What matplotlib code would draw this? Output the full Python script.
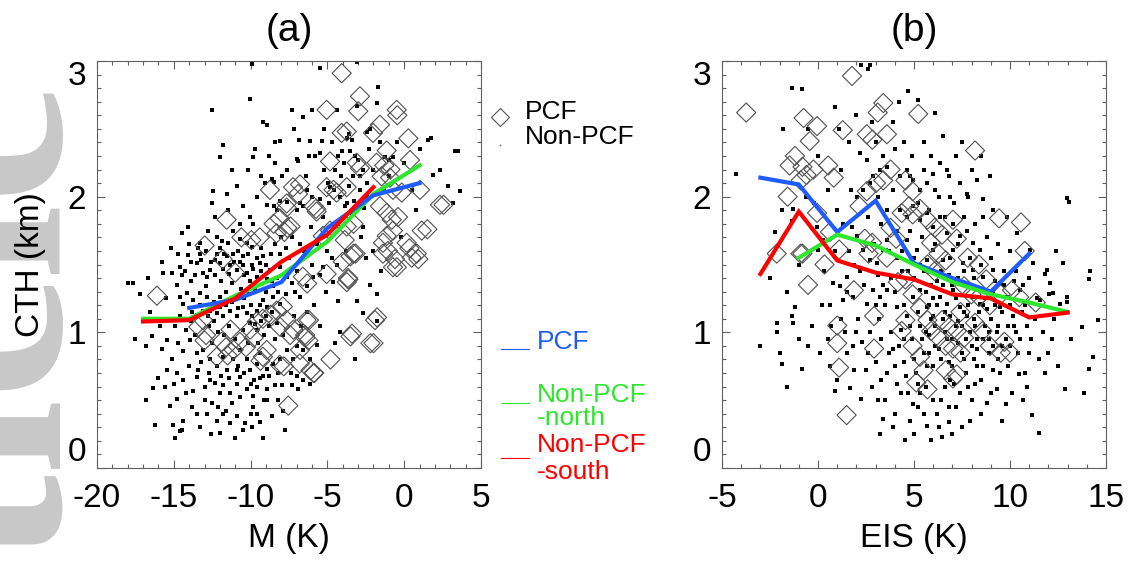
import matplotlib.pyplot as plt
import numpy as np
from matplotlib.lines import Line2D
from matplotlib.ticker import MultipleLocator

plt.rcParams["font.family"] = ["Liberation Sans", "DejaVu Sans"]
plt.rcParams["axes.unicode_minus"] = False

# - Binned mean CTH curves

m_pcf = [-14, -11, -8, -5, -2, 1]
cth_m_pcf = [1.18, 1.24, 1.37, 1.77, 2.01, 2.10]
m_north = [-17, -14, -11, -8, -5, -2, 1]
cth_m_north = [1.10, 1.10, 1.27, 1.42, 1.67, 2.02, 2.23]
m_south = [-17, -14, -11, -8, -5, -2]
cth_m_south = [1.08, 1.09, 1.25, 1.52, 1.72, 2.07]

eis_pcf = [-3, -1, 1, 3, 5, 7, 9, 11]
cth_eis_pcf = [2.14, 2.09, 1.74, 1.97, 1.51, 1.40, 1.30, 1.58]
eis_north = [-1, 1, 3, 5, 7, 9, 11, 13]
cth_eis_north = [1.55, 1.72, 1.64, 1.50, 1.37, 1.28, 1.22, 1.15]
eis_south = [-3, -1, 1, 3, 5, 7, 9, 11, 13]
cth_eis_south = [1.43, 1.89, 1.53, 1.44, 1.39, 1.28, 1.25, 1.11, 1.145]

# - Individual scenes: (M or EIS, CTH)

pcf_m = [
    (-4.07, 2.91), (-2.88, 2.74), (-5.05, 2.64), (-0.49, 2.64), (-0.45, 2.60), (-2.99, 2.63),
    (-3.74, 2.48), (-4.07, 2.47), (-1.58, 2.53), (-2.03, 2.47), (0.27, 2.43), (-1.14, 2.34),
    (-4.83, 2.26), (0.38, 2.27), (-3.09, 2.25), (-2.88, 2.21), (-1.8, 2.25), (-1.3, 2.23),
    (-0.9, 2.2), (-1.47, 2.15), (-0.92, 2.14), (-0.73, 2.05), (-0.16, 2.03), (1.03, 2.05),
    (2.33, 1.94), (-6.78, 2.09), (-7.24, 2.07), (-8.74, 2.05), (-4.6, 2.05), (-4.4, 2.03),
    (-5.05, 2.07), (-5.9, 1.93), (-5.7, 1.89), (-3.74, 2.07), (-11.56, 1.83), (-7.65, 1.95),
    (-7.65, 1.92), (-8.1, 1.84), (-8.5, 1.8), (-7.4, 1.78), (-7.8, 1.74), (-4.83, 1.75),
    (-5.3, 1.71), (-3.3, 1.8), (-3.74, 1.78), (-1.58, 1.93), (-1.14, 1.88), (-0.81, 1.83),
    (-0.73, 1.75), (-1.14, 1.71), (-0.4, 1.85), (-1.38, 1.66), (0.16, 1.66), (1.14, 1.75),
    (-10.6, 1.7), (-9.4, 1.7), (-16.1, 1.27), (-13.1, 1.09), (-13.4, 1.04), (-12.9, 0.98),
    (-13.0, 0.94), (-11.3, 1.02), (-11.9, 0.93), (-11.6, 0.89), (-11.1, 0.87), (-11.5, 0.83),
    (-12.2, 0.82), (-10.7, 0.93), (-10.3, 0.89), (-9.8, 0.96), (-9.6, 1.08), (-9.2, 1.1),
    (-8.7, 1.13), (-8.3, 1.16), (-7.9, 1.19), (-8.95, 0.87), (-9.2, 0.82), (-8.1, 0.76),
    (-6.8, 0.77), (-6.1, 0.72), (-5.9, 0.7), (-6.6, 1.41), (-5.05, 1.43), (-3.66, 1.4),
    (-3.74, 1.37), (-3.5, 1.56), (-3.3, 1.58), (-4.0, 1.52), (-1.38, 1.58), (-0.73, 1.48),
    (0.49, 1.55), (0.82, 1.58), (-1.9, 1.09), (-3.5, 0.97), (-2.2, 0.92), (-7.55, 0.46),
    (-7.65, 1.09), (-7.21, 1.02), (-6.35, 1.09), (-6.45, 0.98), (-6.24, 0.94), (-8.08, 1.04),
    (-10.03, 1.02), (-7.43, 0.98), (-6.78, 0.87), (-12.99, 1.64), (-11.82, 1.54), (-11.0, 1.44),
    (-9.95, 1.68), (-8.31, 1.73), (-7.61, 1.77), (-6.91, 2.02), (-5.74, 1.91), (-6.32, 1.36),
    (-6.2, 1.09), (-6.44, 0.96), (-4.8, 0.8), (-5.86, 0.7), (-7.84, 0.75), (-9.36, 0.79),
    (-3.4, 0.99), (-2.0, 0.92), (-1.77, 1.11), (-3.64, 1.39), (-3.17, 1.58), (-3.87, 1.68),
    (-1.06, 1.6), (-0.6, 1.54), (0.34, 1.62), (0.92, 1.54), (1.51, 1.76), (2.56, 1.94),
    (-0.48, 1.48),
]

nonpcf_m = [
    (-9.93, 2.98), (-3.09, 2.99), (-5.48, 2.95), (-10.04, 2.72), (-12.53, 2.64), (-7.32, 2.64),
    (-6.0, 2.64), (-6.56, 2.59), (-9.17, 2.55), (-8.95, 2.53), (-4.39, 2.64), (-3.09, 2.67),
    (-1.68, 2.81), (-1.79, 2.69), (-8.08, 2.41), (-6.84, 2.42), (-6.13, 2.41), (-5.37, 2.41),
    (-3.74, 2.43), (-3.6, 2.46), (-3.4, 2.42), (-2.44, 2.48), (-2.2, 2.5), (1.58, 2.42),
    (-11.77, 2.38), (-11.99, 2.29), (-9.82, 2.29), (-6.89, 2.26), (-8.41, 2.25), (-5.48, 2.32),
    (-4.07, 2.34), (-3.52, 2.34), (-2.98, 2.27), (-1.25, 2.29), (-1.0, 2.27), (-0.7, 2.29),
    (3.31, 2.34), (-12.42, 2.04), (-11.55, 2.02), (-9.6, 2.0), (-8.95, 1.94), (-8.5, 1.93),
    (-8.3, 1.9), (-9.3, 2.15), (-9.05, 2.1), (-8.6, 2.13), (-8.5, 2.11), (-7.97, 2.15),
    (-8.1, 1.97), (-7.65, 1.96), (-6.78, 1.95), (-6.56, 1.93), (-6.35, 2.05), (-6.0, 2.0),
    (-4.93, 2.1), (-4.82, 2.07), (-4.6, 2.05), (-4.17, 2.0), (-3.74, 1.95), (-3.85, 1.93),
    (-3.3, 1.97), (-2.88, 2.15), (-2.66, 2.2), (-3.31, 2.15), (-2.44, 2.1), (-2.44, 2.0),
    (1.9, 2.16), (2.88, 2.08), (3.64, 2.04), (1.74, 2.43), (3.49, 2.34), (-2.66, 1.78),
    (-14.48, 1.73), (-14.05, 1.78), (-13.29, 1.66), (-12.2, 1.7), (-11.88, 1.67), (-11.44, 1.66),
    (-10.68, 1.69), (-10.25, 1.66), (-9.93, 1.63), (-10.47, 1.93), (-10.03, 1.85), (-9.82, 1.8),
    (-10.68, 1.8), (-11.12, 1.75),
    (-17.96, 1.36), (-17.63, 1.36), (-17.2, 1.28), (-16.65, 1.4), (-15.68, 1.44), (-15.79, 1.52),
    (-15.13, 1.44), (-14.59, 1.48), (-14.48, 1.42), (-14.05, 1.57), (-13.51, 1.51), (-13.29, 1.58),
    (-13.07, 1.44), (-12.85, 1.41), (-12.64, 1.46), (-12.31, 1.53), (-12.2, 1.58), (-11.99, 1.51),
    (-11.77, 1.47), (-11.55, 1.56), (-11.34, 1.5), (-11.12, 1.58), (-10.9, 1.46), (-10.68, 1.52),
    (-10.47, 1.56), (-10.25, 1.44), (-10.03, 1.38), (-9.82, 1.47), (-9.6, 1.41), (-9.38, 1.51),
    (-9.17, 1.56), (-8.95, 1.39), (-8.73, 1.46), (-8.52, 1.34), (-8.3, 1.4), (-8.08, 1.48),
    (-7.65, 1.41), (-7.32, 1.36), (-7.11, 1.3), (-6.78, 1.26), (-6.35, 1.34), (-5.91, 1.41),
    (-5.48, 1.42), (-5.26, 1.48), (-4.61, 1.37), (-4.28, 1.23), (-3.09, 1.23), (-2.22, 1.35),
    (-1.79, 1.28), (-2.66, 1.14), (-1.79, 1.08), (-4.17, 1.0),
    (-16.55, 1.15), (-14.59, 1.26), (-14.37, 1.21), (-14.16, 1.29), (-13.72, 1.24), (-13.29, 1.29),
    (-12.85, 1.26), (-12.64, 1.16), (-12.2, 1.14), (-11.99, 1.19), (-11.77, 1.12), (-11.34, 1.16),
    (-10.9, 1.12), (-10.47, 1.19), (-10.25, 1.14), (-10.03, 1.07), (-9.6, 1.02), (-9.6, 1.16),
    (-9.17, 1.24), (-8.95, 1.19), (-8.52, 1.26), (-8.08, 1.21),
    (-16.44, 0.97), (-15.79, 0.88), (-15.46, 0.94), (-14.7, 0.92), (-14.37, 0.86), (-13.94, 0.94),
    (-15.13, 0.8), (-13.51, 0.85), (-13.07, 0.87), (-12.64, 0.8), (-12.2, 0.75), (-11.77, 0.82),
    (-11.55, 0.72), (-11.12, 0.8), (-10.68, 0.87), (-10.25, 0.8), (-10.03, 0.72), (-9.6, 0.77),
    (-9.38, 0.85), (-9.17, 0.68), (-8.95, 0.73), (-8.52, 0.77), (-8.08, 0.8), (-7.65, 0.87),
    (-7.21, 0.8), (-6.99, 0.9), (-6.56, 0.87), (-6.13, 0.8), (-5.7, 0.91),
    (-16.0, 0.66), (-15.46, 0.72), (-16.33, 0.59), (-15.24, 0.46), (-14.81, 0.51), (-14.37, 0.65),
    (-13.72, 0.57), (-13.51, 0.67), (-12.64, 0.65), (-11.99, 0.55), (-11.77, 0.61), (-11.34, 0.55),
    (-10.9, 0.62), (-10.68, 0.67), (-10.25, 0.58), (-9.82, 0.53), (-9.6, 0.6), (-8.95, 0.58),
    (-8.4, 0.61), (-7.97, 0.61), (-7.32, 0.61), (-6.13, 0.62),
    (-16.22, 0.32), (-15.03, 0.32), (-14.48, 0.28), (-14.37, 0.35), (-13.51, 0.4), (-12.85, 0.4),
    (-12.09, 0.45), (-11.77, 0.4), (-11.34, 0.33), (-10.9, 0.38), (-10.36, 0.33), (-9.82, 0.45),
    (-9.6, 0.4), (-9.38, 0.34), (-7.76, 0.28), (-14.59, 0.27), (-12.0, 0.26), (-10.5, 0.28),
    (-14.9, 1.05), (-14.6, 1.12), (-14.2, 1.02), (-13.8, 1.15), (-13.6, 0.98), (-13.3, 1.2),
    (-13.2, 0.78), (-12.9, 1.34), (-12.7, 1.05), (-12.5, 0.92), (-12.4, 1.22), (-12.1, 1.0),
    (-11.9, 1.38), (-11.7, 0.98), (-11.6, 1.3), (-11.4, 1.05), (-11.2, 1.36), (-11.0, 0.95),
    (-10.9, 1.25), (-10.8, 0.75), (-10.6, 1.32), (-10.5, 1.02), (-10.4, 1.42), (-10.2, 0.92),
    (-10.1, 1.28), (-9.9, 1.12), (-9.8, 0.65), (-9.7, 1.32), (-9.5, 0.92), (-9.4, 1.2),
    (-9.3, 1.45), (-9.1, 0.98), (-9.0, 1.3), (-8.9, 0.5), (-8.8, 1.05), (-8.6, 1.38),
    (-8.4, 0.95), (-8.2, 1.3), (-8.1, 1.58), (-7.9, 0.98), (-7.7, 1.28), (-7.5, 1.55),
    (-7.4, 0.7), (-7.2, 1.12), (-7.0, 1.45), (-6.9, 0.58), (-6.7, 1.05), (-6.5, 1.6),
    (-6.3, 1.15), (-6.1, 1.78), (-5.9, 1.2), (-5.7, 1.65), (-5.5, 1.05), (-5.3, 1.85),
    (-5.1, 1.3), (-4.9, 1.95), (-4.7, 1.55), (-4.5, 2.2), (-4.3, 1.8), (-4.1, 2.15),
    (-3.9, 2.25), (-3.6, 2.08), (-3.4, 1.88), (-3.2, 2.3), (-2.9, 2.05), (-2.6, 1.92),
    (-2.3, 2.35), (-2.0, 2.2), (-1.6, 2.4), (-1.3, 2.05), (-1.0, 2.15), (-0.5, 2.4),
    (0.0, 2.25), (0.5, 2.05), (1.0, 2.35), (-15.5, 1.25), (-15.9, 1.05), (-16.8, 0.9),
    (-17.5, 0.95), (-15.2, 1.62), (-14.8, 1.35), (-13.9, 1.38), (-13.4, 1.62), (-12.8, 1.75),
    (-12.3, 1.85), (-11.5, 1.9), (-10.9, 2.08), (-10.2, 2.2), (-9.7, 2.35), (-8.8, 2.3),
    (-7.6, 2.2), (-7.0, 2.28), (-6.4, 2.15), (-5.8, 2.3), (-5.2, 2.2), (-13.0, 0.6),
    (-12.5, 0.48), (-11.2, 0.48), (-10.7, 0.52), (-10.0, 0.4), (-9.1, 0.5), (-8.6, 0.38),
    (-8.2, 0.5), (-7.9, 0.42), (-7.0, 0.68), (-6.6, 0.65), (-14.0, 0.75), (-14.8, 0.7),
    (-15.6, 0.6), (-16.8, 0.5), (-13.8, 0.45), (-12.2, 0.35), (-11.0, 0.22), (-9.2, 0.22),
    (-13.3, 0.3), (-14.9, 0.22), (-4.5, 0.92), (-3.2, 0.8), (-2.5, 1.55), (-2.0, 1.6),
    (-1.5, 1.45), (-0.2, 1.7), (0.8, 1.9), (2.3, 2.2), (3.2, 1.95),
    (-14.7, 1.58), (-14.3, 1.45), (-13.9, 1.52), (-13.6, 1.42), (-13.2, 1.53), (-12.9, 1.6),
    (-12.6, 1.52), (-12.3, 1.42), (-12.0, 1.62), (-11.7, 1.58), (-11.4, 1.43), (-11.1, 1.52),
    (-10.8, 1.6), (-10.5, 1.5), (-10.2, 1.58), (-9.9, 1.5), (-9.6, 1.55), (-9.3, 1.62),
    (-9.0, 1.5), (-8.7, 1.58), (-8.4, 1.65), (-8.0, 1.7), (-7.7, 1.62), (-7.3, 1.7),
    (-13.9, 1.08), (-13.5, 1.13), (-13.1, 1.16), (-12.8, 1.12), (-12.4, 1.08), (-12.0, 1.26),
    (-11.6, 1.2), (-11.2, 1.22), (-10.8, 1.18), (-10.4, 1.25), (-10.0, 1.2), (-9.7, 1.06),
    (-9.3, 1.08), (-9.0, 1.12), (-8.6, 1.15), (-8.3, 1.07), (-12.7, 0.7), (-12.3, 0.63),
    (-11.9, 0.68), (-11.4, 0.66), (-10.9, 0.72), (-10.4, 0.7), (-10.0, 0.62), (-9.4, 0.66),
    (-8.8, 0.68), (-8.2, 0.7), (-13.4, 0.72), (-14.2, 0.55), (-15.0, 0.62), (-13.0, 0.5),
    (-11.6, 0.42), (-9.9, 0.3), (-12.6, 0.25), (-14.0, 1.65), (-12.5, 1.95), (-11.2, 2.2),
    (-8.4, 2.4), (-7.2, 2.5), (-6.2, 2.3), (-5.2, 2.5), (-4.7, 2.4), (-5.0, 1.6),
    (-4.4, 1.5), (-3.8, 1.6), (-2.8, 1.7), (-6.8, 1.65), (-6.0, 1.5), (-7.0, 1.9),
    (-5.5, 1.98), (-4.3, 2.3),
]

pcf_eis = [
    (-3.74, 2.62), (1.77, 2.89), (-0.75, 2.58), (-0.05, 2.52), (-0.43, 2.41), (1.29, 2.49),
    (3.4, 2.69), (3.11, 2.62), (5.22, 2.61), (2.54, 2.46), (2.83, 2.42), (3.59, 2.46),
    (-1.48, 2.23), (-0.81, 2.22), (-0.24, 2.2), (0.53, 2.23), (0.82, 2.14), (-0.9, 2.12),
    (-0.6, 2.16), (-1.58, 2.0), (-0.05, 1.88), (0.62, 1.74), (1.1, 1.61), (-2.15, 1.58),
    (-0.81, 1.58), (0.34, 1.5), (-0.52, 1.35), (8.18, 2.34), (9.43, 1.84), (10.57, 1.81),
    (10.77, 1.6), (11.34, 1.22), (1.0, 1.05), (1.0, 0.92), (1.1, 0.74), (1.49, 0.39),
    (2.92, 1.12), (2.92, 0.88), (1.87, 1.31), (2.44, 1.69), (2.63, 1.58), (2.82, 1.66),
    (2.16, 1.93), (2.54, 2.04), (3.02, 2.1), (3.4, 2.12), (3.78, 2.2), (4.55, 2.12),
    (4.93, 2.04), (4.74, 1.93), (4.36, 1.88), (4.93, 1.87), (5.31, 1.91), (3.78, 1.77),
    (4.07, 1.69), (3.59, 1.55), (4.16, 1.37), (4.55, 1.39), (5.7, 1.83), (6.08, 1.77),
    (6.46, 1.72), (5.89, 1.66), (6.27, 1.58), (6.65, 1.53), (7.03, 1.83), (7.23, 1.69),
    (5.7, 1.5), (6.08, 1.45), (4.93, 1.28), (5.31, 1.18), (5.7, 1.09), (5.89, 1.01),
    (6.27, 0.96), (6.65, 0.9), (4.55, 1.09), (4.36, 1.01), (4.93, 0.9), (5.31, 0.82),
    (5.5, 0.72), (5.12, 0.63), (5.7, 0.58), (6.46, 1.09), (6.84, 1.04), (7.23, 1.01),
    (7.61, 0.96), (7.03, 0.88), (7.42, 0.85), (6.65, 0.72), (7.03, 0.66), (7.23, 0.69),
    (8.18, 1.07), (8.57, 1.01), (8.95, 0.9), (9.71, 0.93), (10.0, 0.85), (9.52, 0.85),
    (7.8, 1.55), (8.38, 1.5), (8.76, 1.39), (9.52, 1.28), (10.1, 1.31), (10.48, 1.26),
    (8.95, 1.2), (7.61, 1.34), (7.99, 1.28), (8.38, 1.26), (7.42, 1.15), (-1.2, 2.3),
    (-0.91, 1.58),
]

nonpcf_eis = [
    (-4.27, 2.17), (-1.89, 1.9), (-1.28, 1.91), (-1.37, 1.82), (-1.2, 1.19), (-2.15, 1.07),
    (-0.07, 1.78), (0.28, 1.68), (0.02, 1.61), (0.8, 1.36), (1.15, 1.34), (1.49, 1.41),
    (2.01, 2.0), (2.36, 2.05), (2.71, 2.1), (2.88, 2.15), (3.23, 2.2), (3.58, 2.22),
    (2.53, 2.27), (2.19, 2.32), (1.75, 1.78), (2.01, 1.71), (2.36, 1.61), (2.71, 1.53),
    (3.06, 1.51), (3.4, 1.61), (3.58, 1.68), (1.32, 1.24), (1.84, 1.26), (2.53, 1.21),
    (2.88, 1.31), (3.23, 1.26), (3.58, 1.31), (4.1, 1.19), (4.62, 1.12), (4.97, 1.26),
    (5.31, 1.31), (5.66, 1.19), (6.0, 1.12), (6.35, 1.26), (6.7, 1.21), (7.05, 1.31),
    (7.4, 1.19), (7.74, 1.12), (8.09, 1.26), (8.44, 1.21), (8.79, 1.17), (9.13, 1.29),
    (9.48, 1.19), (9.83, 1.26), (10.17, 1.12), (10.52, 1.31), (4.27, 2.15), (4.62, 2.2),
    (4.97, 2.12), (5.31, 2.05), (5.66, 2.1), (6.0, 2.17), (6.35, 2.25), (6.7, 2.2),
    (4.27, 1.9), (4.62, 1.85), (4.97, 1.93), (5.31, 1.83), (5.66, 1.88), (6.0, 1.78),
    (6.35, 1.85), (6.7, 1.73), (7.05, 1.8), (7.4, 1.71), (7.74, 1.75), (8.09, 1.66),
    (8.44, 1.61), (4.62, 1.68), (5.14, 1.61), (5.66, 1.53), (6.0, 1.61), (6.53, 1.53),
    (7.05, 1.61), (7.57, 1.51), (8.09, 1.46), (8.61, 1.41), (9.13, 1.46), (9.48, 1.36),
    (7.4, 2.1), (7.74, 2.02), (8.26, 2.12), (8.61, 1.98), (8.96, 2.15), (9.13, 1.9),
    (9.83, 1.85), (10.35, 1.73), (11.04, 1.61), (11.22, 1.51), (11.91, 1.46), (12.08, 1.36),
    (12.26, 1.29), (11.56, 1.24), (12.6, 1.21), (12.95, 1.26), (12.97, 1.99), (14.17, 1.45),
    (-1.38, 2.8), (-0.81, 2.79), (0.87, 2.66), (2.25, 2.97), (2.7, 2.97), (2.6, 2.94),
    (5.22, 2.71), (6.08, 2.62), (-2.25, 1.74), (-2.15, 1.0), (-2.0, 0.85), (-1.86, 0.77),
    (-1.38, 1.12), (-1.29, 1.07), (-0.81, 0.73), (0.91, 0.57), (1.68, 0.59), (2.25, 0.51),
    (3.4, 0.36), (3.21, 0.25), (4.55, 0.21), (4.93, 0.47), (5.7, 0.31), (5.89, 0.21),
    (6.46, 0.23), (6.84, 0.34), (9.33, 0.58), (9.81, 0.47), (10.48, 0.69), (13.06, 1.96),
    (12.78, 1.51), (12.97, 1.22), (12.87, 0.58), (13.73, 1.04), (14.12, 1.39), (14.6, 1.09),
    (14.31, 0.82), (14.12, 0.73), (13.83, 0.55), (11.82, 1.43), (12.01, 1.28), (11.53, 0.26),
    (11.15, 0.39),
    (2.0, 1.0), (2.3, 0.93), (2.6, 0.85), (3.0, 0.78), (3.3, 0.95), (3.6, 0.7),
    (3.9, 0.88), (4.1, 0.62), (4.3, 1.02), (4.5, 0.78), (4.7, 0.55), (4.9, 0.95),
    (5.1, 0.7), (5.3, 1.05), (5.5, 0.85), (5.6, 0.6), (5.8, 0.98), (6.0, 0.75),
    (6.1, 1.05), (6.3, 0.88), (6.4, 0.5), (6.6, 1.0), (6.8, 0.78), (7.0, 0.95),
    (7.1, 0.62), (7.3, 1.08), (7.5, 0.85), (7.7, 0.7), (7.9, 1.0), (8.1, 0.8),
    (8.3, 0.95), (8.5, 0.65), (8.7, 1.05), (8.9, 0.85), (9.1, 0.72), (9.3, 1.0),
    (9.6, 0.9), (9.9, 0.75), (10.2, 1.05), (10.4, 0.85), (10.8, 0.7), (11.1, 0.95),
    (11.5, 0.8), (3.5, 0.5), (4.0, 0.4), (5.2, 0.45), (6.2, 0.4), (7.2, 0.45),
    (8.0, 0.5), (8.8, 0.48), (2.8, 0.6), (1.5, 0.85), (1.2, 1.1), (0.5, 0.95),
    (0.2, 1.2), (-0.5, 0.9), (-1.0, 0.95), (5.0, 1.4), (5.5, 1.45), (6.2, 1.38),
    (6.8, 1.42), (7.3, 1.4), (7.8, 1.35), (8.3, 1.32), (8.8, 1.3), (6.5, 1.1),
    (7.6, 1.15), (8.2, 1.05), (9.0, 1.1), (5.8, 1.2), (4.4, 1.45), (3.8, 1.4),
    (3.1, 1.42), (2.2, 1.45), (1.6, 1.6), (1.0, 1.9), (0.5, 2.05), (1.2, 2.2),
    (1.6, 2.4), (3.0, 2.4), (3.9, 2.55), (4.5, 2.4), (5.5, 2.4), (6.5, 2.45),
    (7.2, 2.3), (4.2, 2.7), (4.7, 2.78), (0.0, 2.3), (-0.5, 2.5), (-1.8, 2.5),
    (-0.3, 1.05), (0.6, 0.75), (1.9, 0.72), (-1.6, 0.6),
    (3.2, 1.1), (3.5, 1.2), (3.8, 1.0), (4.0, 1.3), (4.2, 0.9), (4.5, 1.2),
    (4.8, 1.05), (5.0, 0.8), (5.2, 1.15), (5.4, 0.95), (5.6, 1.3), (5.7, 0.75),
    (5.9, 1.1), (6.1, 0.9), (6.2, 1.2), (6.4, 0.8), (6.5, 1.35), (6.7, 0.95),
    (6.9, 1.12), (7.0, 0.75), (7.2, 1.25), (7.3, 0.92), (7.5, 1.05), (7.6, 0.8),
    (7.8, 1.2), (8.0, 0.9), (8.1, 1.1), (8.3, 0.75), (8.4, 1.15), (8.6, 0.95),
    (8.7, 1.25), (8.9, 1.0), (9.1, 0.9), (9.2, 1.2), (9.4, 1.05), (9.6, 1.15),
    (9.8, 0.95), (10.0, 1.2), (10.3, 1.0), (10.6, 1.15), (10.9, 1.05), (11.3, 1.1),
    (11.7, 1.0), (12.2, 0.95), (12.5, 0.75), (3.3, 1.8), (3.6, 1.9), (3.9, 2.05),
    (4.1, 1.75), (4.4, 1.6), (4.8, 1.75), (5.0, 1.55), (5.2, 1.95), (5.4, 1.7),
    (5.8, 1.9), (6.1, 1.65), (6.3, 2.0), (6.6, 1.85), (6.9, 1.55), (7.1, 1.95),
    (7.3, 1.65), (7.6, 1.85), (7.9, 1.55), (8.2, 1.8), (8.5, 1.5), (8.8, 1.7),
    (9.0, 1.55), (9.4, 1.65), (9.7, 1.45), (10.0, 1.6), (10.3, 1.45), (10.7, 1.35),
    (11.0, 1.4), (0.3, 1.45), (0.6, 1.2), (0.9, 1.6), (1.3, 1.8), (1.7, 2.05),
    (1.4, 1.0), (1.8, 0.9), (2.1, 1.1), (2.4, 1.35), (2.7, 1.0), (3.0, 1.2),
    (3.3, 0.65), (3.7, 0.85), (4.3, 0.55), (4.6, 0.68), (5.3, 0.55), (6.0, 0.5),
    (6.6, 0.6), (7.4, 0.55), (8.2, 0.62), (9.0, 0.55), (9.5, 0.7), (10.1, 0.55),
    (10.7, 0.5), (3.9, 0.3), (5.0, 0.25), (6.3, 0.3), (7.0, 0.25), (7.9, 0.35),
    (1.1, 2.5), (2.0, 2.6), (2.8, 2.55), (3.4, 2.3), (4.0, 2.35), (4.9, 2.3),
    (5.9, 2.3), (6.9, 2.0), (7.5, 2.4), (8.0, 2.2), (8.5, 2.3), (-0.2, 1.95),
    (-0.6, 2.0), (-1.0, 1.5), (-1.6, 1.3), (-2.5, 1.4), (-3.0, 0.9), (12.0, 0.85),
    (13.2, 0.95), (12.4, 1.6),
    (4.1, 1.55), (4.7, 1.45), (5.3, 1.5), (5.9, 1.35), (6.4, 1.45), (7.0, 1.35),
    (7.6, 1.45), (8.1, 1.4), (8.6, 1.2), (9.2, 1.38), (9.7, 1.35), (10.2, 1.38),
    (5.6, 1.0), (6.0, 1.25), (6.6, 1.15), (7.2, 1.05), (7.7, 0.95), (8.3, 0.88),
    (8.9, 0.95), (9.4, 0.8), (10.0, 0.9), (10.5, 0.95), (11.0, 0.85), (4.5, 0.95),
    (4.0, 0.75), (3.4, 1.35), (2.9, 1.65), (3.7, 1.6), (4.8, 2.15), (5.5, 2.2),
    (6.1, 2.05), (6.8, 2.15), (7.8, 2.0), (8.6, 1.85), (3.1, 2.0), (2.6, 1.85),
    (1.9, 1.5), (1.5, 1.3), (0.7, 1.05), (0.1, 0.85), (1.0, 0.65), (2.5, 0.72),
    (3.1, 0.5), (4.8, 0.35), (5.5, 0.4), (6.8, 0.45), (7.5, 0.3), (8.5, 0.4),
    (9.6, 0.35), (10.9, 0.6), (11.8, 0.7), (12.3, 1.1), (11.4, 1.25), (10.8, 1.2),
    (9.9, 1.05), (5.2, 0.62), (5.8, 0.85), (6.9, 0.65), (7.8, 0.6), (8.6, 0.75),
]

BLUE = "#1f5cff"
GREEN = "#2ee62e"
RED = "#ff0000"
SPINE = "#606060"

W, H = 1136, 563
fig = plt.figure(figsize=(W / 100, H / 100), dpi=100)


def px(x, y):
    # figure pixel (from top-left) -> figure fraction
    return x / W, 1 - y / H


# - Watermark strip at the left edge

fig.text(*px(58, 80), "Article", rotation=90, rotation_mode="anchor", ha="right", va="baseline",
         fontsize=195, family="Liberation Serif", weight="bold", color="#c8c8c8", zorder=0)


def style_axes(ax, xlim, xticks):
    ax.set_xlim(*xlim)
    ax.set_ylim(0, 3)
    ax.set_xticks(xticks)
    ax.set_yticks([0, 1, 2, 3])
    ax.xaxis.set_minor_locator(MultipleLocator(1))
    ax.yaxis.set_minor_locator(MultipleLocator(0.1))
    ax.tick_params(which="both", direction="in", top=True, right=True, color=SPINE, width=0.8)
    ax.tick_params(which="major", length=6, labelsize=24)
    ax.tick_params(which="minor", length=3)
    ax.tick_params(axis="x", pad=11)
    ax.tick_params(axis="y", pad=8)
    for s in ax.spines.values():
        s.set_color(SPINE)
        s.set_linewidth(0.8)
    ylabels = ax.get_yticklabels()
    ylabels[0].set_va("bottom")
    ylabels[-1].set_va("top")


def draw_panel(ax, pcf, nonpcf, curves):
    nx, ny = np.array(nonpcf).T
    ax.scatter(nx, ny, s=5, marker="s", c="black", linewidths=0, zorder=2)
    dx, dy = np.array(pcf).T
    ax.scatter(dx, dy, s=95, marker="D", facecolors="none", edgecolors="#505050",
               linewidths=0.8, zorder=3)
    for xs, ys, color in curves:
        ax.plot(xs, ys, color=color, lw=3, zorder=4, solid_joinstyle="miter")


ax_a = fig.add_axes([97 / W, 1 - 468 / H, 384 / W, 407 / H])
draw_panel(ax_a, pcf_m, nonpcf_m, [
    (m_north, cth_m_north, GREEN),
    (m_pcf, cth_m_pcf, BLUE),
    (m_south, cth_m_south, RED),
])
style_axes(ax_a, (-20, 5), [-20, -15, -10, -5, 0, 5])

ax_b = fig.add_axes([722 / W, 1 - 468 / H, 384 / W, 407 / H])
draw_panel(ax_b, pcf_eis, nonpcf_eis, [
    (eis_pcf, cth_eis_pcf, BLUE),
    (eis_north, cth_eis_north, GREEN),
    (eis_south, cth_eis_south, RED),
])
style_axes(ax_b, (-5, 15), [-5, 0, 5, 10, 15])

# - Titles and axis labels

fig.text(*px(289, 31), "(a)", fontsize=28, ha="center", va="center")
fig.text(*px(914, 31), "(b)", fontsize=28, ha="center", va="center")
fig.text(*px(289, 538), "M (K)", fontsize=24, ha="center", va="center")
fig.text(*px(914, 538), "EIS (K)", fontsize=24, ha="center", va="center")
fig.text(*px(30, 265), "CTH (km)", fontsize=24, ha="center", va="center", rotation=90)

# - Legend between the panels

fig.add_artist(Line2D([px(500, 0)[0]], [px(0, 117)[1]], marker="D", markersize=9,
                      markerfacecolor="none", markeredgecolor="#555555", markeredgewidth=0.8,
                      linestyle="none", transform=fig.transFigure))
fig.add_artist(Line2D([px(500, 0)[0]], [px(0, 145)[1]], marker="s", markersize=1.2,
                      markerfacecolor="#777777", markeredgewidth=0, linestyle="none",
                      transform=fig.transFigure))
fig.text(*px(525, 112), "PCF", fontsize=19, ha="left", va="center")
fig.text(*px(525, 137), "Non-PCF", fontsize=19, ha="left", va="center")

for y_line, color, lines in [
    (349, BLUE, [(342, "PCF")]),
    (403, GREEN, [(395, "Non-PCF"), (418, "-north")]),
    (458, RED, [(445, "Non-PCF"), (472, "-south")]),
]:
    x0, y0 = px(501, y_line)
    x1, _ = px(529, y_line)
    fig.add_artist(Line2D([x0, x1], [y0, y0], color=color, lw=0.8, transform=fig.transFigure))
    for y_text, label in lines:
        fig.text(*px(537, y_text), label, fontsize=19, color=color, ha="left", va="center")

plt.savefig("out.png", dpi=100)
